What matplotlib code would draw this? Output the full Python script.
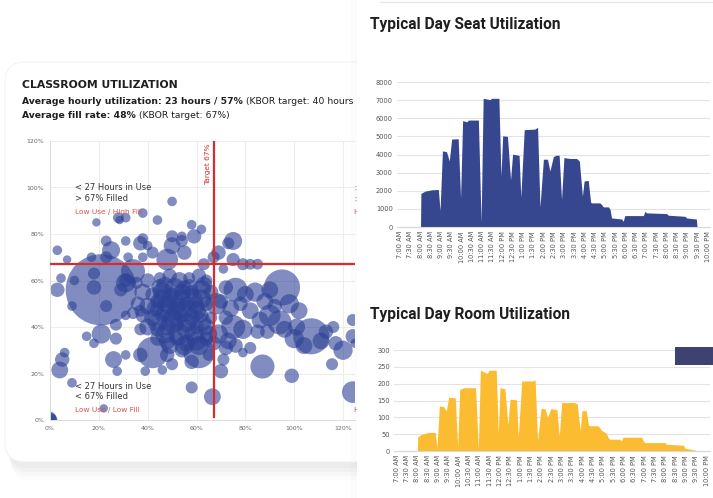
import numpy as np
import matplotlib.pyplot as plt
from matplotlib.patches import FancyBboxPatch, Rectangle
from matplotlib.transforms import IdentityTransform

# ---------------- data ----------------
# classroom bubbles: hourly utilization %, fill rate %, seats
util_pct = [50, 19, 28, 31, 38, 44, 58, 62, 50, 54, 59, 38, 31, 23, 25, 40, 50, 48, 55, 42,
            38, 75, 73, 69, 67, 3, 7, 17, 23, 32, 75, 79, 82, 85, 63, 28.5, 37, 54, 71,
            4.5, 3, 21, 34, 31, 18, 10, 9, 18, 23, 29, 31, 35.5, 37, 31, 15, 18, 21, 27, 6,
            5, 4, 9, 26, 27.5, 31, 37, 39, 46, 58, 22, 0, 0.5, 0, 27,
            40, 45, 49, 53, 57, 61, 64, 47, 55,
            38, 42, 46, 50, 54, 58, 62, 66, 44,
            36, 40, 44, 48, 52, 56, 60, 64, 68,
            38, 42, 46, 50, 54, 58, 62, 66, 34,
            40, 44, 48, 52, 56, 60, 64, 37,
            44, 48, 52, 56, 60, 64, 67,
            42, 61, 48, 54, 65, 58, 50,
            46, 50, 54, 58, 62, 48, 52, 56, 60, 44, 50, 56, 62, 47, 53, 59, 65, 45, 51, 57,
            63, 49, 55, 61, 43,
            72, 76, 80, 84, 90, 95, 88, 92, 98, 102, 70, 74, 78, 82, 86, 90, 94, 72, 75, 79,
            85, 69, 73, 89, 96, 101, 100, 107, 104, 111, 113, 117, 120, 124, 116, 72, 76, 79,
            82, 87, 99, 115.5, 124, 125, 124, 70, 66.5, 71]
fill_pct = [94, 85, 87, 87, 89, 86, 84, 82, 79, 77, 79, 78, 77, 77, 73, 75, 75, 69, 72, 72,
            70, 77, 76, 72, 70, 73, 69, 70, 70, 70, 69, 67, 67, 67, 67, 86, 76, 79, 65,
            61, 56, 56, 64, 59, 63, 60, 49, 57, 49, 56, 60, 59, 47, 45, 36, 33, 37, 35, 29,
            26, 21.5, 16, 26, 21, 28, 28, 21, 21.5, 14, 5, 0, 0, 1, 41,
            60, 61, 62, 60, 61, 62, 60, 58, 57,
            55, 54, 55, 54, 55, 55, 56, 55, 51,
            50, 49, 48, 50, 49, 50, 49, 50, 50,
            45, 44, 45, 44, 45, 44, 45, 44, 46,
            40, 39, 40, 41, 39, 40, 40, 39,
            35, 34, 35, 33, 34, 35, 33,
            29, 29, 28, 30, 28, 25, 24,
            52, 52, 52, 52, 52, 47, 47, 47, 47, 42, 42, 42, 42, 37, 37, 37, 37, 57, 57, 57,
            58, 32, 32, 32, 48,
            57, 56, 54, 55, 56, 57, 51, 49, 50, 47, 51, 48, 50, 47, 43, 45, 42, 44, 40, 39,
            38, 37, 34, 38, 39, 40, 35, 36, 32, 34, 38, 33, 30, 36, 40, 31, 32, 29,
            31, 23, 19, 24, 12, 33, 43, 21, 10, 26]
seats = [64, 49, 81, 64, 64, 64, 64, 64, 100, 100, 144, 81, 64, 81, 225, 64, 196, 324, 144, 100,
         64, 225, 100, 144, 100, 64, 49, 64, 100, 64, 121, 100, 81, 81, 100, 49, 144, 64, 64,
         64, 144, 3500, 400, 256, 100, 64, 64, 144, 100, 121, 121, 100, 100, 64, 64, 64, 256, 100, 64,
         144, 196, 64, 196, 64, 64, 144, 64, 64, 100, 49, 144, 100, 100, 100,
         144, 100, 144, 196, 100, 144, 100, 196, 144,
         196, 144, 256, 144, 196, 144, 256, 144, 144,
         144, 196, 144, 256, 196, 144, 196, 144, 324,
         144, 196, 144, 256, 144, 196, 144, 100, 100,
         196, 144, 196, 144, 256, 144, 196, 100,
         144, 196, 144, 196, 256, 144, 144,
         676, 676, 144, 144, 100, 144, 100,
         256, 324, 256, 324, 256, 324, 256, 324, 256, 256, 324, 256, 256, 256, 324, 256, 196, 196, 256, 196,
         196, 196, 256, 256, 196,
         144, 400, 196, 256, 196, 900, 196, 144, 256, 196, 144, 196, 144, 196, 196, 324, 400, 144, 400, 256,
         144, 256, 196, 144, 196, 196, 256, 900, 196, 196, 144, 144, 256, 144, 100, 144, 144, 64,
         100, 400, 144, 100, 324, 64, 100, 144, 196, 100]

# typical day: time of day, seats in use, rooms in use
day_times = ['7:00', '8:00', '8:01', '8:13', '8:32', '8:52', '8:57', '9:04', '9:16', '9:24',
             '9:31', '9:50', '9:57', '10:03', '10:15', '10:20', '10:49', '10:57', '11:03', '11:23',
             '11:28', '11:49', '11:55', '12:00', '12:14', '12:23', '12:29', '12:48', '12:53', '13:03',
             '13:34', '13:42', '13:49', '13:59', '14:11', '14:18', '14:28', '14:36', '14:45', '14:52',
             '14:59', '15:16', '15:36', '15:44', '15:53', '15:58', '16:10', '16:17', '16:20', '16:44',
             '16:49', '16:54', '17:09', '17:14', '17:18', '17:48', '17:52', '17:57', '18:51', '18:56',
             '19:00', '19:59', '20:04', '20:53', '20:57', '21:26', '21:28', '22:00']
seats_used = [0, 0, 1850, 1980, 2050, 2070, 900, 4200, 4150, 3650,
              4850, 4870, 1600, 5870, 5800, 5900, 5900, 250, 7100, 7030,
              7100, 7100, 2800, 5030, 5000, 2600, 4020, 3950, 1650, 5370,
              5400, 5500, 1100, 3740, 3740, 3090, 3880, 3960, 3960, 1520,
              3830, 3780, 3780, 3640, 1700, 2540, 2570, 1370, 1330, 1330,
              1240, 1110, 1110, 960, 500, 440, 310, 630, 630, 870,
              780, 740, 650, 590, 500, 440, 0, 0]
rooms_used = [0, 0, 42, 50, 55, 55, 10, 134, 132, 119,
              160, 158, 12, 183, 188, 188, 188, 5, 240, 230,
              240, 240, 52, 188, 185, 77, 154, 152, 40, 208,
              208, 211, 30, 127, 125, 100, 127, 124, 124, 43,
              144, 144, 144, 140, 60, 120, 120, 77, 75, 75,
              70, 62, 52, 40, 35, 35, 30, 41, 41, 30,
              25, 25, 20, 17, 8, 3, 0, 0]

time_labels = ['7:00 AM', '7:30 AM', '8:00 AM', '8:30 AM', '9:00 AM', '9:30 AM', '10:00 AM',
               '10:30 AM', '11:00 AM', '11:30 AM', '12:00 PM', '12:30 PM', '1:00 PM', '1:30 PM',
               '2:00 PM', '2:30 PM', '3:00 PM', '3:30 PM', '4:00 PM', '4:30 PM', '5:00 PM',
               '5:30 PM', '6:00 PM', '6:30 PM', '7:00 PM', '7:30 PM', '8:00 PM', '8:30 PM',
               '9:00 PM', '9:30 PM', '10:00 PM']

# ---------------- figure ----------------
W, H = 713, 498
fig = plt.figure(figsize=(W / 100, H / 100), dpi=100)
fig.patch.set_facecolor('white')


def box(x0, y0, x1, y1):
    # pixel box (top-left origin) -> figure fraction rect
    return [x0 / W, 1 - y1 / H, (x1 - x0) / W, (y1 - y0) / H]


def px(x, y):
    return x / W, 1 - y / H


# card with soft shadow
for i, a in enumerate([0.05, 0.04, 0.03, 0.02]):
    sh = FancyBboxPatch((8 + i, 36 - 6 - 4 * i), 400, 400, boxstyle='round,pad=0,rounding_size=20',
                        transform=IdentityTransform(), facecolor='#777777', edgecolor='none',
                        alpha=a, zorder=0.2)
    fig.add_artist(sh)
card = FancyBboxPatch((5, 36), 400, 400, boxstyle='round,pad=0,rounding_size=20',
                      transform=IdentityTransform(), facecolor='white', edgecolor='#f0f0f0',
                      lw=0.6, zorder=0.5)
fig.add_artist(card)

# right panel covering the card
for i, a in enumerate([0.03, 0.025, 0.02]):
    fig.add_artist(Rectangle((357 - 2 * (i + 1), 0), 2, H, transform=IdentityTransform(),
                             facecolor='#888888', alpha=a, edgecolor='none', zorder=1.9))
fig.add_artist(Rectangle((357, 0), W - 357, H, transform=IdentityTransform(),
                         facecolor='white', edgecolor='none', zorder=2))
fig.add_artist(plt.Line2D([380 / W, 1], [1 - 2 / H, 1 - 2 / H], color='#e8e8e8', lw=1, zorder=2.1))
fig.add_artist(Rectangle((675, H - 365), 38, 18, transform=IdentityTransform(),
                         facecolor='#3d4270', edgecolor='none', zorder=5))

# ---------------- card texts ----------------
dark = '#1f1f1f'
fig.text(*px(22, 85), 'CLASSROOM UTILIZATION', fontsize=7.8, fontweight='bold', color=dark,
         va='center', ha='left', zorder=1.5)
renderer = fig.canvas.get_renderer()


def runs(x, y, parts, size):
    for s, w in parts:
        t = fig.text(*px(x, y), s, fontsize=size, fontweight=w, color=dark, va='center',
                     ha='left', zorder=1.5)
        x += t.get_window_extent(renderer).width


runs(22, 102, [('Average hourly utilization: 23 hours / 57%', 'bold'),
               (' (KBOR target: 40 hours x', 'normal')], 6.7)
runs(22, 115, [('Average fill rate: 48%', 'bold'), (' (KBOR target: 67%)', 'normal')], 6.7)

# ---------------- bubble chart ----------------
ax = fig.add_axes(box(50, 141, 50 + 125 * 2.442, 420), zorder=1)
ax.patch.set_visible(False)
ax.scatter(util_pct, fill_pct, s=np.array(seats) * 0.75, color='#2d4196', alpha=0.6,
           linewidths=0, zorder=2)
ax.set_xlim(0, 125)
ax.set_ylim(0, 120)
ticks = [0, 20, 40, 60, 80, 100, 120]
ax.set_xticks(ticks)
ax.set_xticklabels([f'{t}%' for t in ticks])
ax.set_yticks(ticks)
ax.set_yticklabels([f'{t}%' for t in ticks])
ax.tick_params(labelsize=4.5, labelcolor='#666666', length=0, pad=4)
ax.grid(True, color='#ececec', lw=0.7)
ax.set_axisbelow(True)
for sp in ['top', 'right']:
    ax.spines[sp].set_visible(False)
for sp in ['left', 'bottom']:
    ax.spines[sp].set_color('#dddddd')
    ax.spines[sp].set_linewidth(0.7)

red = '#d92b2b'
ax.axvline(67, ymin=0.01, color=red, lw=1.6, zorder=3)
ax.axhline(67, color=red, lw=1.6, zorder=3)
ax.text(64.6, 119, 'Target 67%', rotation=90, ha='center', va='top', fontsize=5.3, color=red)

note = '#333333'
ax.text(10.2, 100, '< 27 Hours in Use', fontsize=6, color=note, va='center', zorder=4)
ax.text(10.2, 95.2, '> 67% Filled', fontsize=6, color=note, va='center', zorder=4)
ax.text(10.2, 89.5, 'Low Use / High Fill', fontsize=5.3, color='#d9534f', va='center', zorder=4)
ax.text(10.2, 14.6, '< 27 Hours in Use', fontsize=6, color=note, va='center', zorder=4)
ax.text(10.2, 9.9, '< 67% Filled', fontsize=6, color=note, va='center', zorder=4)
ax.text(10.2, 4.3, 'Low Use / Low Fill', fontsize=5.3, color='#d9534f', va='center', zorder=4)
# right-hand quadrant notes, cut off by the panel on the right
ax.text(124, 100, '>', fontsize=6, color='#aaaaaa', va='center')
ax.text(124, 95.2, '>', fontsize=6, color='#aaaaaa', va='center')
ax.text(124, 89.5, 'H', fontsize=5.3, color='#d9534f', va='center')
ax.text(124, 4.3, 'H', fontsize=5.3, color='#d9534f', va='center')

# ---------------- typical day charts ----------------
hours = [int(t.split(':')[0]) + int(t.split(':')[1]) / 60 for t in day_times]
tick_pos = np.arange(7, 22.01, 0.5)


def day_axes(rect, values, color, ymax, step, xlim):
    a = fig.add_axes(rect, zorder=3)
    a.fill_between(hours, values, color=color, lw=0, zorder=2)
    a.set_xlim(*xlim)
    a.set_ylim(0, ymax)
    a.set_yticks(np.arange(0, ymax + 1, step))
    a.set_xticks(tick_pos)
    a.set_xticklabels(time_labels, rotation=90)
    a.tick_params(labelsize=4.8, labelcolor='#555555', length=0, pad=3)
    a.grid(True, axis='y', color='#e3e3e3', lw=0.8)
    a.set_axisbelow(True)
    for sp in ['top', 'right', 'left']:
        a.spines[sp].set_visible(False)
    a.spines['bottom'].set_color('#d8d8d8')
    return a


day_axes(box(397, 82, 710, 227), seats_used, '#36478f', 8000, 1000, (6.854, 22.097))
day_axes(box(394, 350, 710, 451), rooms_used, '#fcbc32', 300, 50, (6.87, 22.16))

fig.text(*px(370, 25), 'Typical Day Seat Utilization', fontsize=11.2, fontweight='bold',
         family='Roboto', color=dark, va='center', zorder=4)
fig.text(*px(370, 315), 'Typical Day Room Utilization', fontsize=11.2, fontweight='bold',
         family='Roboto', color=dark, va='center', zorder=4)

fig.savefig('out.png', dpi=100)
